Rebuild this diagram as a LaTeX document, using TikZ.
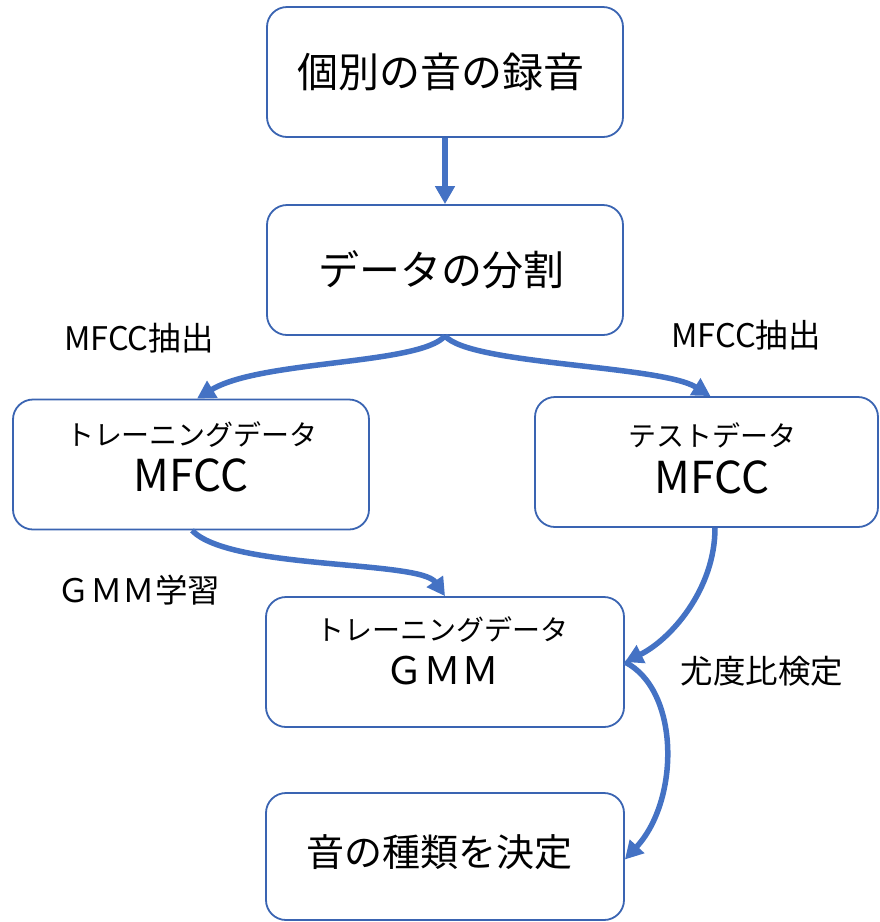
\documentclass[tikz,border=0pt]{standalone}
\usepackage{fontspec}
\setmainfont{Noto Sans CJK JP}
\usetikzlibrary{arrows.meta}
\definecolor{arrowblue}{RGB}{68,114,196}
\definecolor{boxblue}{RGB}{58,100,178}
\begin{document}
\begin{tikzpicture}[x=1pt,y=-1pt,
  box/.style={draw=boxblue, line width=1.8pt, rounded corners=20pt,
    minimum width=#1, minimum height=130pt, inner sep=0pt, fill=white},
  conn/.style={draw=arrowblue, line width=5.5pt,
    -{Triangle[length=18pt,width=19pt]}},
  bigtxt/.style={font=\fontsize{41pt}{48pt}\selectfont, inner sep=0pt},
  mfcctxt/.style={font=\fontsize{44pt}{50pt}\selectfont, inner sep=0pt},
  midtxt/.style={font=\fontsize{38pt}{44pt}\selectfont, inner sep=0pt},
  smalltxt/.style={font=\fontsize{28pt}{32pt}\selectfont, inner sep=0pt},
  lbltxt/.style={font=\fontsize{32.5pt}{36pt}\selectfont, inner sep=0pt}]
\useasboundingbox[fill=white] (0,0) rectangle (880,922);

% boxes
\node[box=356pt] (b1) at (445,72) {};
\node[box=356pt] (b2) at (445,270) {};
\node[box=356pt] (b3) at (191,464.5) {};
\node[box=343pt] (b4) at (706.5,462) {};
\node[box=358pt] (b5) at (445,662) {};
\node[box=358pt, minimum height=127pt] (b6) at (445,856.5) {};

% box texts
\node[bigtxt] (t1) at (441,72) {個別の音の録音};
\node[bigtxt] (t2) at (441,270) {データの分割};
\node[smalltxt] (t3a) at (192,435) {トレーニングデータ};
\node[mfcctxt] (t3b) at (191,475) {MFCC};
\node[smalltxt] (t4a) at (712,435) {テストデータ};
\node[mfcctxt] (t4b) at (712,477) {MFCC};
\node[smalltxt] (t5a) at (442,630) {トレーニングデータ};
\node[midtxt] (t5b) at (442,671) {ＧＭＭ};
\node[midtxt] (t6) at (439,852) {音の種類を決定};

% labels
\node[lbltxt] (l1) at (139,338) {MFCC抽出};
\node[lbltxt] (l2) at (746,335) {MFCC抽出};
\node[lbltxt] (l3) at (139,590) {ＧＭＭ学習};
\node[lbltxt] (l4) at (762,671) {尤度比検定};

% connectors
\draw[conn] (b1.south) -- (b2.north);
\draw[conn] (b2.south) .. controls (420,365) and (260,360) .. ([xshift=6pt]b3.north);
\draw[conn] (b2.south) .. controls (470,365) and (660,365) .. ([xshift=4pt]b4.north);
\draw[conn] ([xshift=1pt]b3.south) .. controls (230,570) and (420,560) .. (b5.north);
\draw[conn] ([xshift=8.5pt]b4.south) .. controls (715,590) and (670,640) .. (b5.east);
\draw[conn] (b5.east) .. controls (680,690) and (680,800) .. ([yshift=-3pt]b6.east);
\end{tikzpicture}
\end{document}
